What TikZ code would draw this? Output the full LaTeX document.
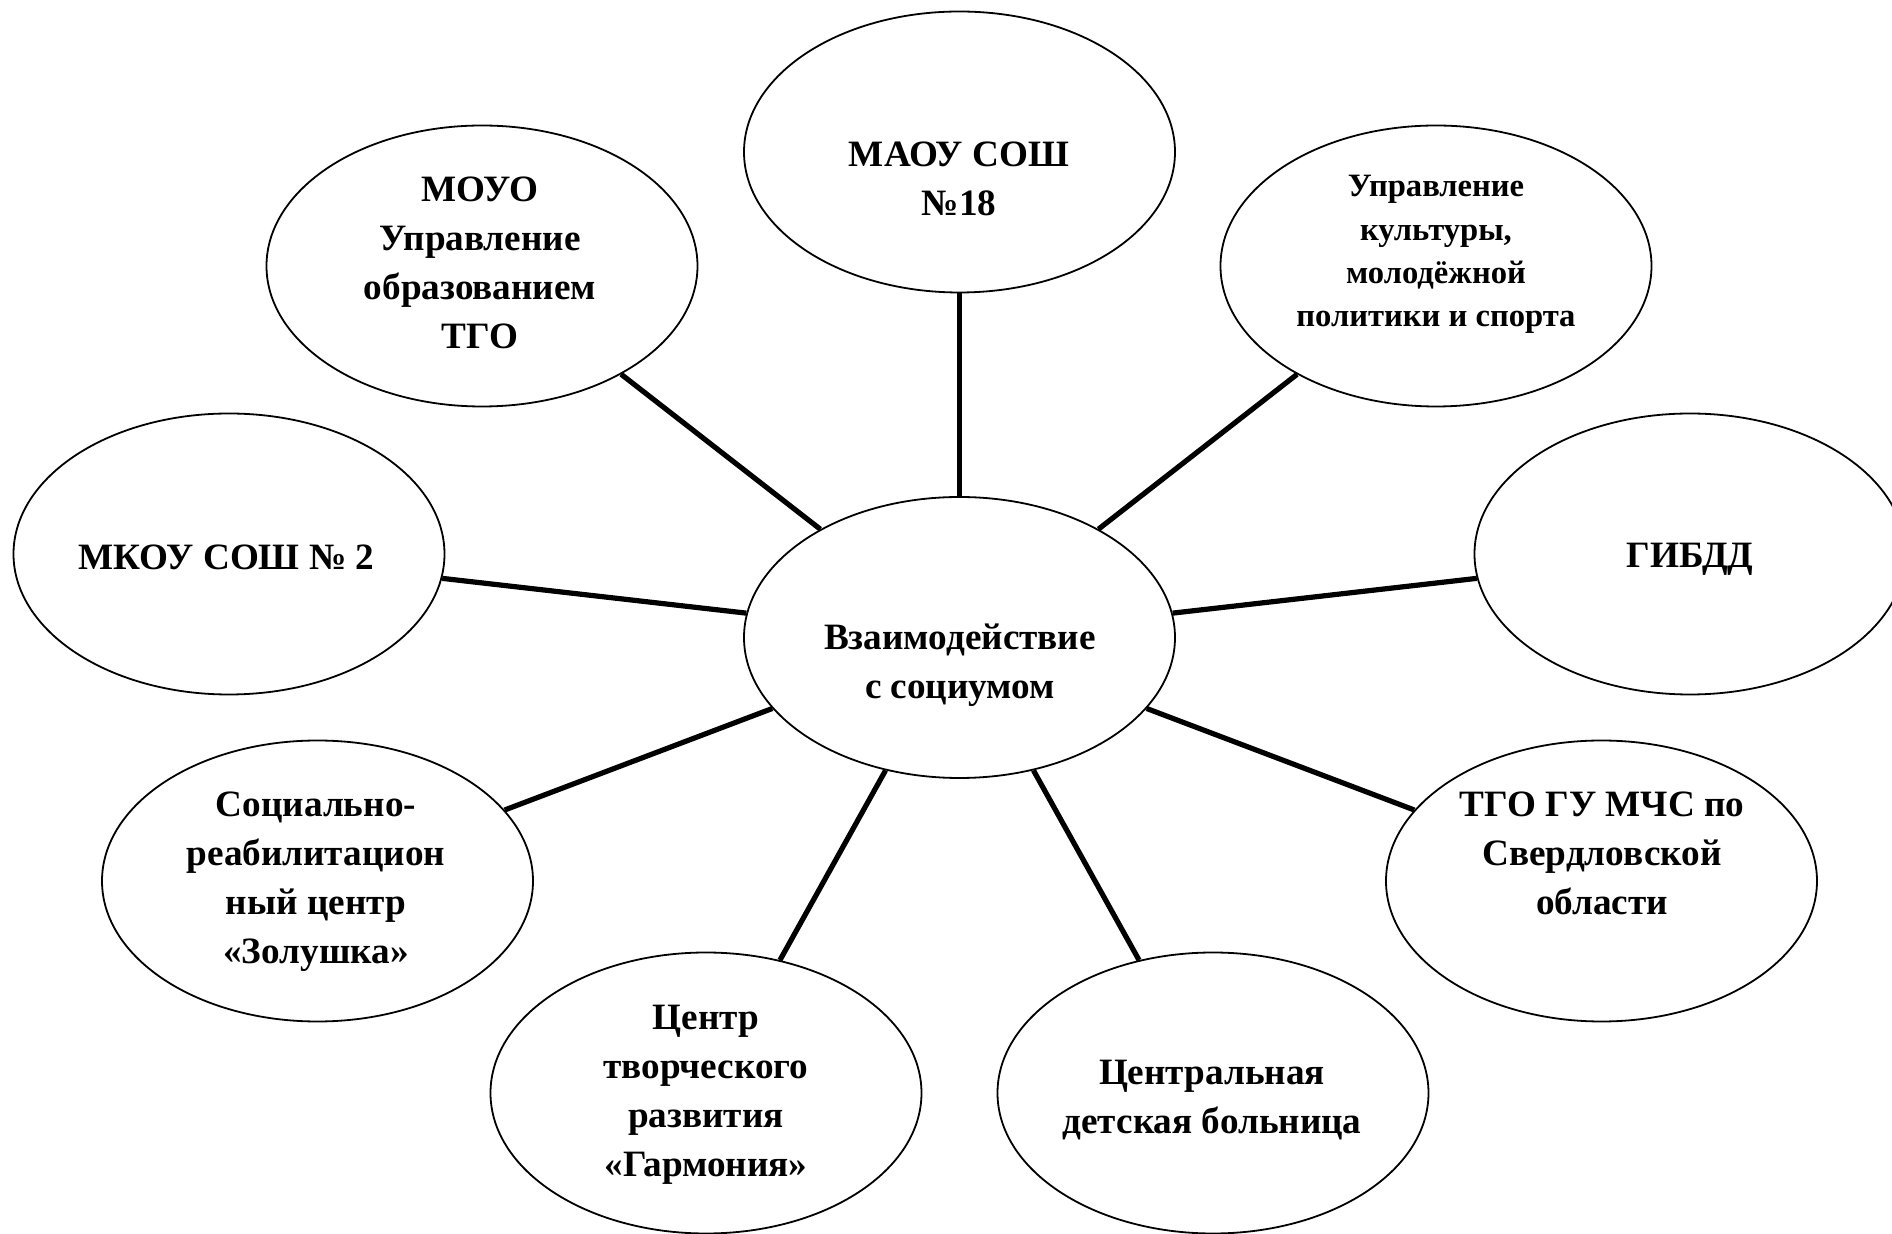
\documentclass[tikz,border=0pt]{standalone}
\usepackage{fontspec}
\setmainfont{Liberation Serif}
\usetikzlibrary{shapes.geometric}
\begin{document}
\begin{tikzpicture}[x=0.5pt,y=-0.5pt,
  oval/.style={ellipse,draw,line width=0.9pt,minimum width=215.5pt,minimum height=140.5pt,inner sep=0pt},
  link/.style={line width=2.6pt},
  lbl/.style={anchor=base,inner sep=0pt,font=\fontsize{18.6}{24.5}\selectfont\bfseries},
  lblsmall/.style={anchor=base,inner sep=0pt,font=\fontsize{16.3}{21.6}\selectfont\bfseries}]
\clip (0,0) rectangle (1892,1234);
\fill[white] (0,0) rectangle (1892,1234);
% ellipses
\node[oval] (c)    at (959.5,637.5) {};
\node[oval] (maou) at (959.5,152) {};
\node[oval] (mouo) at (482,266) {};
\node[oval] (upr)  at (1436,266) {};
\node[oval] (mkou) at (229,554) {};
\node[oval] (gibdd) at (1690,554) {};
\node[oval] (soc)  at (317.5,881) {};
\node[oval] (tgo)  at (1601.5,881) {};
\node[oval] (cent) at (706,1093) {};
\node[oval] (bol)  at (1213,1093) {};
% connectors
\draw[link] (c) -- (maou);
\draw[link] (c) -- (mouo);
\draw[link] (c) -- (upr);
\draw[link] (c) -- (mkou);
\draw[link] (c) -- (gibdd);
\draw[link] (c) -- (soc);
\draw[link] (c) -- (tgo);
\draw[link] (c) -- (cent);
\draw[link] (c) -- (bol);
% texts
\node[lbl] (ct) at (960,650) {\begin{tabular}[t]{@{}c@{}}Взаимодействие\\с социумом\end{tabular}};
\node[lbl] (maout) at (959,167) {\begin{tabular}[t]{@{}c@{}}МАОУ СОШ\\№18\end{tabular}};
\node[lbl] (mouot) at (480,202) {\begin{tabular}[t]{@{}c@{}}МОУО\\Управление\\образованием\\ТГО\end{tabular}};
\node[lblsmall] (uprt) at (1436,197) {\begin{tabular}[t]{@{}c@{}}Управление\\культуры,\\молодёжной\\политики и спорта\end{tabular}};
\node[lbl] (mkout) at (226.5,570) {МКОУ СОШ № 2};
\node[lbl] (gibddt) at (1690,568) {ГИБДД};
\node[lbl] (soct) at (316,817) {\begin{tabular}[t]{@{}c@{}}Социально-\\реабилитацион\\ный центр\\«Золушка»\end{tabular}};
\node[lbl] (tgot) at (1602,817) {\begin{tabular}[t]{@{}c@{}}ТГО ГУ МЧС по\\Свердловской\\области\end{tabular}};
\node[lbl] (centt) at (706,1030) {\begin{tabular}[t]{@{}c@{}}Центр\\творческого\\развития\\«Гармония»\end{tabular}};
\node[lbl] (bolt) at (1212,1085) {\begin{tabular}[t]{@{}c@{}}Центральная\\детская больница\end{tabular}};
\end{tikzpicture}
\end{document}
